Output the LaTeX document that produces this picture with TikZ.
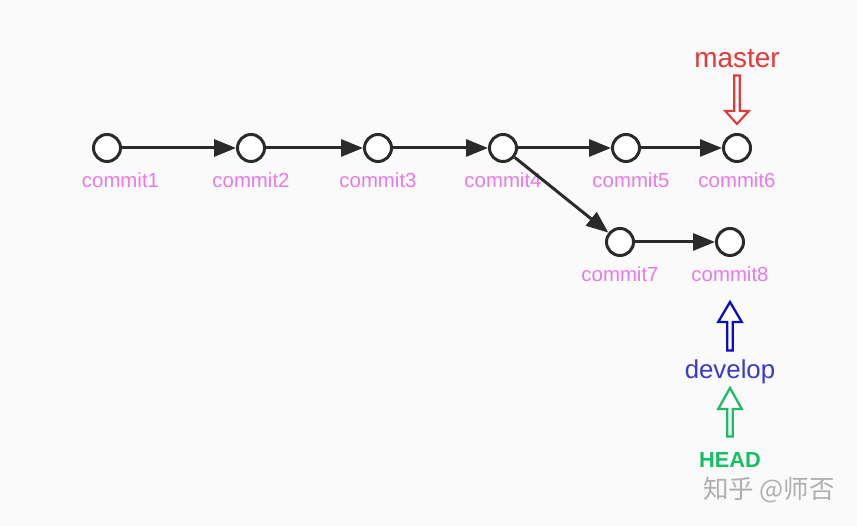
\documentclass[tikz,border=0pt]{standalone}
\usepackage{fontspec}
\setmainfont{Liberation Sans}
\newfontfamily\cjk{Noto Sans CJK SC}
\usetikzlibrary{positioning}
\usetikzlibrary{arrows.meta}
\definecolor{bggray}{RGB}{250,250,250}
\definecolor{edgegray}{RGB}{42,42,42}
\definecolor{commitpink}{RGB}{232,122,232}
\definecolor{masterred}{RGB}{226,58,58}
\definecolor{developblue}{RGB}{58,58,205}
\definecolor{arrowblue}{RGB}{10,10,200}
\definecolor{headgreen}{RGB}{22,190,100}
\definecolor{markgray}{RGB}{175,175,175}
\tikzset{>={Triangle[length=4.4mm,width=3.4mm]}}
\tikzset{commit/.style={draw=edgegray, circle, line width=1.7pt, minimum size=5.4mm, inner sep=0pt, fill=white}}
\tikzset{lab/.style={text=commitpink, font=\fontsize{11.6}{13}\selectfont}}
\tikzset{link/.style={->, draw=edgegray, line width=1.7pt}}
\tikzset{pointer/.pic={
  \path[pic actions] (0,0) -- (-0.235,#1) -- (-0.055,#1) -- (-0.055,0.97)
    -- (0.055,0.97) -- (0.055,#1) -- (0.235,#1) -- cycle;}}

\begin{document}
\begin{tikzpicture}
\fill[bggray] (0,0) rectangle (17.14,10.52);
\useasboundingbox (0,0) rectangle (17.14,10.52);
\begin{scope}[on grid]

\node[commit] (c1) at (2.14, 7.56) {};
\node[commit] (c2) [right = 2.88 of c1] {};
\node[commit] (c3) [right = 2.54 of c2] {};
\node[commit] (c4) [right = 2.5 of c3] {};
\node[commit] (c5) [right = 2.46 of c4] {};
\node[commit] (c6) [right = 2.22 of c5] {};
\node[commit] (c7) at (12.40, 5.68) {};
\node[commit] (c8) [right = 2.2 of c7] {};

\node[lab] (t1) at ([xshift=0.27cm, yshift=-0.64cm]c1) {commit1};
\node[lab] (t2) [below = 0.64 of c2] {commit2};
\node[lab] (t3) [below = 0.64 of c3] {commit3};
\node[lab] (t4) [below = 0.64 of c4] {commit4};
\node[lab] (t5) at ([xshift=0.1cm, yshift=-0.64cm]c5) {commit5};
\node[lab] (t6) [below = 0.64 of c6] {commit6};
\node[lab] (t7) [below = 0.64 of c7] {commit7};
\node[lab] (t8) [below = 0.64 of c8] {commit8};

\draw[link] (c1) -- (c2);
\draw[link] (c2) -- (c3);
\draw[link] (c3) -- (c4);
\draw[link] (c4) -- (c5);
\draw[link] (c5) -- (c6);
\draw[link] (c4) -- (c7);
\draw[link] (c7) -- (c8);

% branch pointers
\node[text=masterred, font=\fontsize{15.9}{18}\selectfont] (master) [above = 1.78 of c6] {master};
\coordinate (mtip) at ([yshift=0.48cm]c6.center);
\pic[draw=masterred, fill=white, line width=1.2pt] at (mtip) {pointer={0.26}};

\node[text=developblue, font=\fontsize{14.7}{17}\selectfont] (develop) [below = 2.6 of c8] {develop};
\coordinate (dtip) at ([yshift=-1.2cm]c8.center);
\pic[draw=arrowblue, fill=white, line width=1.3pt, rotate=180] at (dtip) {pointer={0.4}};

\node[text=headgreen, font=\bfseries\fontsize{12.4}{15}\selectfont] (head) [below = 1.76 of develop] {HEAD};
\coordinate (htip) at ([yshift=-0.32cm]develop.center);
\pic[draw=headgreen, fill=white, line width=1.3pt, rotate=180] at (htip) {pointer={0.42}};

\node[text=markgray, font=\cjk\fontsize{14.5}{17}\selectfont] (mark) at (15.38, 0.72) {知乎 @师否};
\end{scope}
\end{tikzpicture}
\end{document}
